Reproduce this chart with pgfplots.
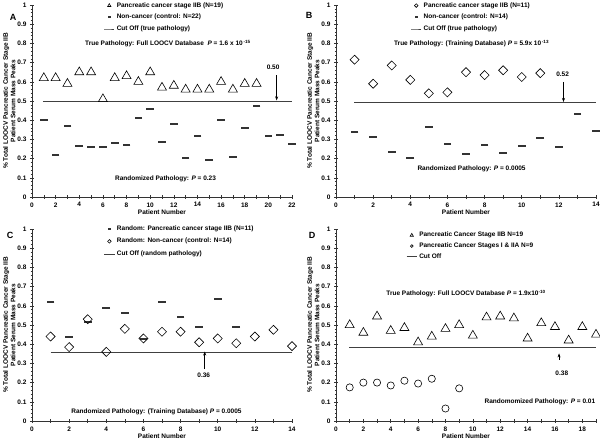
\documentclass[border=0pt]{standalone}
\usepackage{fontspec}
\setmainfont{Liberation Sans}
\usepackage{pgfplots}
\pgfplotsset{compat=1.18}
\usetikzlibrary{arrows.meta}

\newcommand{\sm}{\bfseries\fontsize{6.5}{7.5}\selectfont}
\tikzset{note/.style={font=\sm}}

\pgfplotsset{
  panel/.style={
    scale only axis, width=260pt, height=192pt,
    axis x line=bottom, axis y line=left,
    axis line style={-, black!80, line width=0.6pt},
    ymin=0, ymax=1, ytick={0,0.1,...,1}, minor y tick num=4,
    yticklabel style={/pgf/number format/fixed, /pgf/number format/precision=1},
    tick align=center, major tick length=4pt, minor tick length=2.5pt,
    tick style={black!80, line width=0.5pt},
    xmin=0,
    font=\sm, tick label style={font=\sm},
    /pgf/number format/assume math mode=true,
    xlabel={Patient Number},
    ylabel={\% Total LOOCV Pancreatic Cancer Stage IIB\\Patient Serum Mass Peaks},
    ylabel style={align=center, font=\sm, at={(axis description cs:-0.05,0.5)},
      anchor=south},
    xlabel style={font=\sm, yshift=4pt},
    clip=false,
    legend style={draw=none, fill=none, anchor=north west, font=\sm,
      row sep=1.5pt, cells={anchor=west}},
    legend image post style={scale=0.6},
  },
  tri/.style={only marks, mark=triangle, mark size=5.2pt,
    mark options={black, line width=0.6pt, fill=none},
    legend image post style={mark size=3.2pt}},
  dia/.style={only marks, mark=square, mark size=3.2pt,
    mark options={black, line width=0.6pt, fill=none, rotate=45},
    legend image post style={mark size=2.1pt}},
  circ/.style={only marks, mark=o, mark size=3.6pt,
    mark options={black, line width=0.6pt},
    legend image post style={mark size=2.3pt}},
  bar/.style={only marks, mark=-, mark size=3.8pt,
    mark options={black!80, line width=2pt},
    legend image post style={mark size=2.8pt}},
  cut/.style={black!75, line width=0.8pt, no marks},
}

\begin{document}
\begin{tikzpicture}
\useasboundingbox (0,0) rectangle (600pt,441pt);

% ---- A
\begin{axis}[panel, at={(32pt,244pt)}, anchor=south west,
  xmax=22, xtick={0,...,22},
  xticklabels={0,,2,,4,,6,,8,,10,,12,,14,,16,,18,,20,,22},
  legend style={at={(axis cs:5.8,1.035)}}]
\addplot[tri] coordinates {
  (1,0.62) (2,0.62) (3,0.59) (4,0.65) (5,0.65) (6,0.51) (7,0.62)
  (8,0.63) (9,0.60) (10,0.65) (11,0.57) (12,0.58) (13,0.56) (14,0.56)
  (15,0.56) (16,0.60) (17,0.56) (18,0.59) (19,0.59)};
\addlegendentry{Pancreatic cancer stage IIB (N=19)}
\addplot[bar] coordinates {
  (1,0.40) (2,0.22) (3,0.37) (4,0.265) (5,0.26) (6,0.26) (7,0.28)
  (8,0.27) (9,0.41) (10,0.46) (11,0.285) (12,0.38) (13,0.205) (14,0.32)
  (15,0.195) (16,0.40) (17,0.21) (18,0.36) (19,0.475) (20,0.32)
  (21,0.325) (22,0.275)};
\addlegendentry{Non-cancer (control: N=22)}
\addplot[cut] coordinates {(0.93,0.5) (22,0.5)};
\addlegendentry{Cut Off (true pathology)}
\node[note] at (axis cs:11.5,0.80) {True Pathology: Full LOOCV Database\ \ \textit{P} = 1.6 x 10\textsuperscript{\,-15}};
\node[note] at (axis cs:11.3,0.093) {Randomized Pathology: \textit{P} = 0.23};
\draw[-{Stealth[length=4pt,width=3pt]}, black, line width=0.6pt] (axis cs:20.7,0.635) -- (axis cs:20.7,0.503);
\node[note] at (axis cs:20.4,0.675) {0.50};
\end{axis}

% ---- B
\begin{axis}[panel, at={(336pt,244pt)}, anchor=south west,
  xmax=14, xtick={0,...,14},
  xticklabels={0,,2,,4,,6,,8,,10,,12,,14},
  legend style={at={(axis cs:3.85,1.035)}}]
\addplot[dia] coordinates {
  (1,0.715) (2,0.59) (3,0.685) (4,0.61) (5,0.54) (6,0.545) (7,0.65)
  (8,0.635) (9,0.66) (10,0.625) (11,0.645)};
\addlegendentry{Pancreatic cancer stage IIB (N=11)}
\addplot[bar] coordinates {
  (1,0.34) (2,0.31) (3,0.235) (4,0.205) (5,0.365) (6,0.275) (7,0.225)
  (8,0.27) (9,0.23) (10,0.265) (11,0.305) (12,0.26) (13,0.43) (14,0.345)};
\addlegendentry{Non-cancer (control: N=14)}
\addplot[cut] coordinates {(0.99,0.491) (14,0.491)};
\addlegendentry{Cut Off (true pathology)}
\node[note] at (axis cs:7.3,0.80) {True Pathology: (Training Database) \textit{P} = 5.9x 10\textsuperscript{\,-13}};
\node[note] at (axis cs:7.3,0.147) {Randomized Pathology: \textit{P} = 0.0005};
\draw[-{Stealth[length=4pt,width=3pt]}, black, line width=0.6pt] (axis cs:12.25,0.60) -- (axis cs:12.25,0.495);
\node[note] at (axis cs:12.2,0.637) {0.52};
\end{axis}

% ---- C
\begin{axis}[panel, at={(32pt,20pt)}, anchor=south west,
  xmax=14, xtick={0,...,14},
  xticklabels={0,,2,,4,,6,,8,,10,,12,,14},
  legend style={at={(axis cs:3.7,1.04)}, row sep=2.5pt}]
\addplot[bar] coordinates {
  (1,0.62) (2,0.435) (3,0.515) (4,0.59) (5,0.565) (6,0.425) (7,0.62)
  (8,0.54) (9,0.49) (10,0.635) (11,0.49)};
\addlegendentry{Random: Pancreatic cancer stage IIB (N=11)}
\addplot[dia] coordinates {
  (1,0.44) (2,0.385) (3,0.53) (4,0.36) (5,0.48) (6,0.43) (7,0.465)
  (8,0.465) (9,0.41) (10,0.43) (11,0.405) (12,0.44) (13,0.475) (14,0.39)};
\addlegendentry{Random: Non-cancer (control: N=14)}
\addplot[cut] coordinates {(1,0.359) (14,0.359)};
\addlegendentry{Cut Off (random pathology)}
\node[note] at (axis cs:6.7,0.047) {Randomized Pathology: (Training Database) \textit{P} = 0.0005};
\draw[-{Stealth[length=4pt,width=3pt]}, black, line width=0.6pt] (axis cs:9.3,0.27) -- (axis cs:9.3,0.362);
\node[note] at (axis cs:9.25,0.237) {0.36};
\end{axis}

% ---- D
\begin{axis}[panel, at={(336pt,20pt)}, anchor=south west,
  xmax=19, xtick={0,...,19},
  xticklabels={0,,2,,4,,6,,8,,10,,12,,14,,16,,18,},
  legend style={at={(axis cs:4.9,1.005)}, row sep=0.5pt}]
\addplot[tri] coordinates {
  (1,0.50) (2,0.46) (3,0.545) (4,0.47) (5,0.485) (6,0.41) (7,0.44)
  (8,0.48) (9,0.50) (10,0.445) (11,0.54) (12,0.545) (13,0.535) (14,0.43)
  (15,0.51) (16,0.49) (17,0.42) (18,0.49) (19,0.45)};
\addlegendentry{Pancreatic Cancer Stage IIB N=19}
\addplot[circ] coordinates {
  (1,0.175) (2,0.20) (3,0.20) (4,0.185) (5,0.21) (6,0.195) (7,0.22)
  (8,0.065) (9,0.17)};
\addlegendentry{Pancreatic Cancer Stages I \& IIA N=9}
\addplot[cut] coordinates {(0.98,0.383) (19,0.383)};
\addlegendentry{Cut Off}
\node[note] at (axis cs:9.5,0.664) {True Pathology: Full LOOCV Database \textit{P} = 1.9x10\textsuperscript{-10}};
\node[note] at (axis cs:14.9,0.098) {Randomomized Pathology: \textit{P} = 0.01};
\draw[-{Stealth[length=4pt,width=3pt]}, black, line width=0.6pt] (axis cs:16.3,0.32) -- (axis cs:16.3,0.352);
\node[note] at (axis cs:16.5,0.247) {0.38};
\end{axis}

\node[font=\bfseries\fontsize{9}{9}\selectfont] at (13pt,424pt) {A};
\node[font=\bfseries\fontsize{9}{9}\selectfont] at (309pt,426pt) {B};
\node[font=\bfseries\fontsize{9}{9}\selectfont] at (10pt,206pt) {C};
\node[font=\bfseries\fontsize{9}{9}\selectfont] at (312pt,206pt) {D};
\end{tikzpicture}
\end{document}
